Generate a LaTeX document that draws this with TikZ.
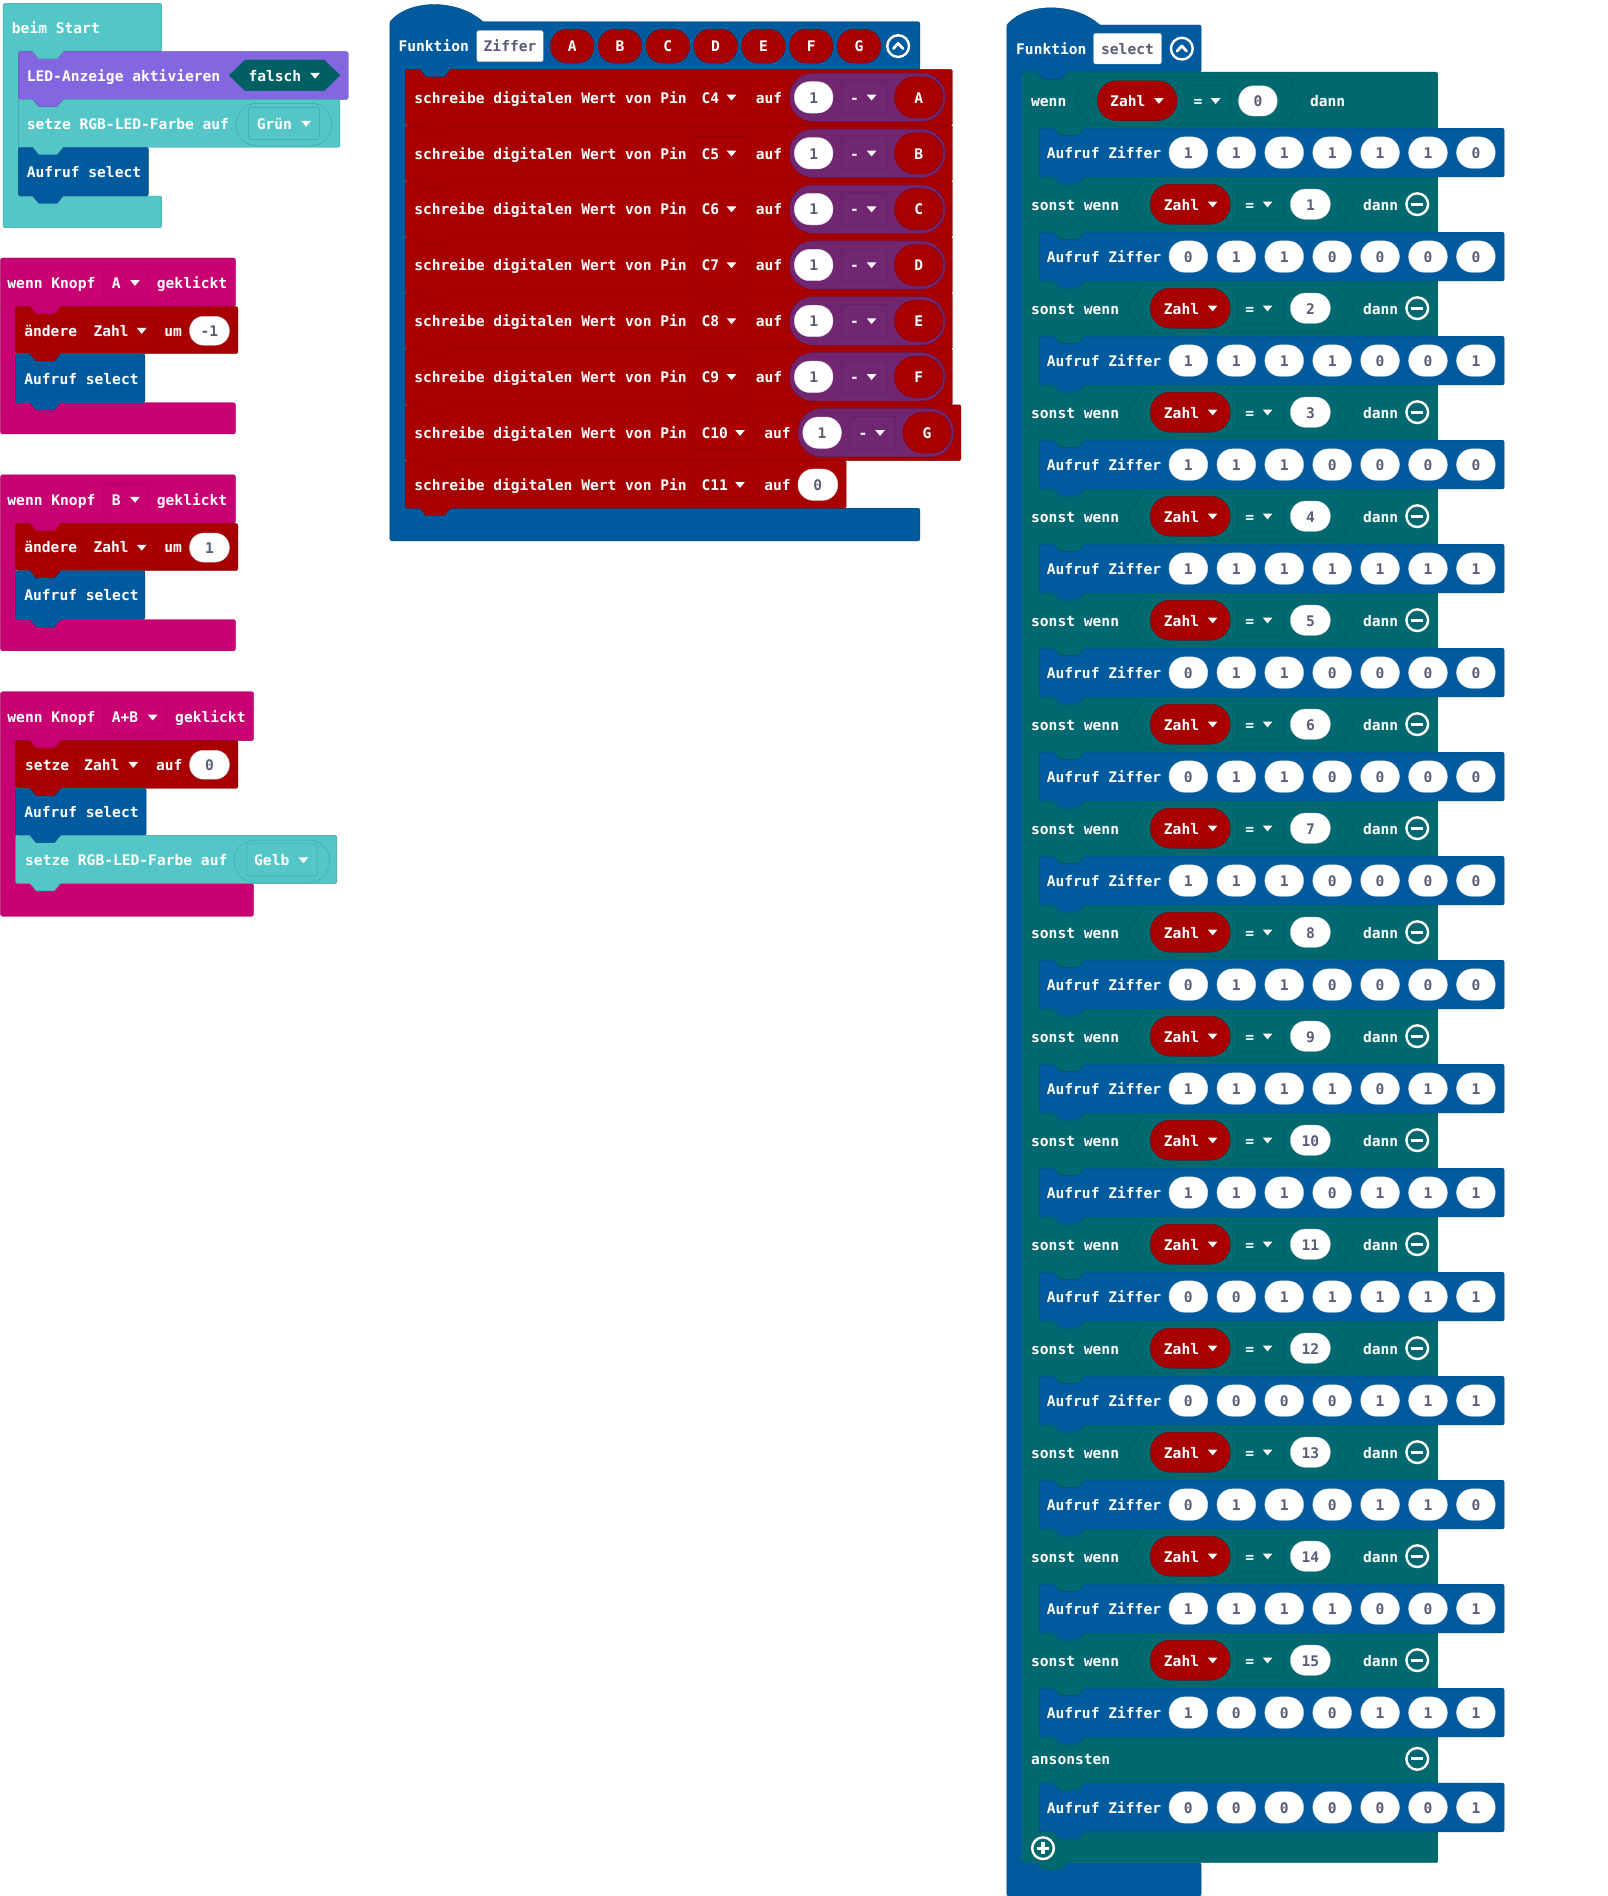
\documentclass[tikz,border=0pt]{standalone}
\usepackage{fontspec}
\newfontfamily\blockfont{DejaVu Sans Mono}

\definecolor{basicC}{HTML}{54C6C8}
\definecolor{basicD}{HTML}{3FA4A7}
\definecolor{ledC}{HTML}{8267E0}
\definecolor{boolC}{HTML}{005F63}
\definecolor{logicC}{HTML}{006970}
\definecolor{logicD}{HTML}{00535A}
\definecolor{inputC}{HTML}{C90072}
\definecolor{inputD}{HTML}{A0005B}
\definecolor{varC}{HTML}{A80000}
\definecolor{varD}{HTML}{860000}
\definecolor{funcC}{HTML}{005A9E}
\definecolor{mathC}{HTML}{712672}
\definecolor{mathD}{HTML}{591D5A}
\definecolor{numT}{HTML}{575E75}

\tikzstyle{lbl} = [font=\blockfont\bfseries\fontsize{14.6}{16}\selectfont, text=white, inner sep=0pt, anchor=west, text height=11.7pt, text depth=1pt]
\tikzstyle{num} = [lbl, text=numT, anchor=center]
\tikzstyle{tag} = [lbl, anchor=center]

% block shapes
\newcommand{\stmt}[5]{\draw[fill=#5, draw=#5!80!black, rounded corners=2pt] (#1,#2) rectangle (#3,#4);}
\newcommand{\cblk}[8]{\draw[fill=#8, draw=#8!80!black, rounded corners=2pt] (#1,#2) -- (#3,#2) -- (#3,#4) -- (#5,#4) -- (#5,#6) -- (#3,#6) -- (#3,#7) -- (#1,#7) -- cycle;}
\newcommand{\hatcap}[3]{\fill[#3] (#1,#2+2) -- (#1,#2) .. controls (#1+16,#2-19) and (#1+56,#2-19) .. (#1+77,#2) -- (#1+77,#2+2) -- cycle;
  \draw[#3!80!black] (#1,#2) .. controls (#1+16,#2-19) and (#1+56,#2-19) .. (#1+77,#2);}
\newcommand{\notch}[3]{\fill[#3] (#1+12,#2-1.5) -- (#1+12,#2) -- (#1+17,#2+6) -- (#1+32,#2+6) -- (#1+37,#2) -- (#1+37,#2-1.5) -- cycle;
  \draw[#3!80!black] (#1+12,#2) -- (#1+17,#2+6) -- (#1+32,#2+6) -- (#1+37,#2);}
\newcommand{\pill}[6]{\pgfmathsetmacro\pr{0.49*#4*1.2072}
  \draw[fill=#5, draw=#6, rounded corners=\pr pt] (#1-#3/2,#2-#4/2) rectangle (#1+#3/2,#2+#4/2);}
\newcommand{\ddbox}[6]{\draw[fill=#5, draw=#6, rounded corners=2pt] (#1,#3-#4) rectangle (#2,#3+#4);}
\newcommand{\ddown}[2]{\fill[white] (#1-4,#2-2.2) -- (#1+4,#2-2.2) -- (#1,#2+2.6) -- cycle;}
\newcommand{\hexa}[4]{\draw[fill=logicC, draw=logicD] (#1,#3) -- (#1+13,#3-#4) -- (#2-12,#3-#4) -- (#2,#3) -- (#2-12,#3+#4) -- (#1+13,#3+#4) -- cycle;}
\newcommand{\collapse}[2]{\draw[white, line width=2.4pt] (#1,#2) circle[radius=9];
  \draw[white, line width=2.8pt, line cap=round, line join=round] (#1-4,#2+2) -- (#1,#2-2.2) -- (#1+4,#2+2);}
\newcommand{\minusbtn}[2]{\draw[white, line width=2.4pt] (#1,#2) circle[radius=9];
  \draw[white, line width=3.2pt] (#1-4.8,#2) -- (#1+4.8,#2);}
\newcommand{\plusbtn}[2]{\draw[white, line width=2.4pt] (#1,#2) circle[radius=9];
  \draw[white, line width=3.2pt] (#1-4.8,#2) -- (#1+4.8,#2) (#1,#2-4.8) -- (#1,#2+4.8);}

\begin{document}
\begin{tikzpicture}[x=1.2072pt, y=-1.2072pt]
    \fill[white] (0,0) rectangle (1332,1570.6);
    \useasboundingbox (0,0) rectangle (1332,1570.6);

    % beim Start
    \cblk{2.5}{2.8}{134}{42.8}{15.2}{162.4}{188.6}{basicC}
    \node[lbl] (start) at (9.7,23.5) {beim Start};
    \stmt{15.2}{42.8}{288.5}{82.3}{ledC}
    \node[lbl] (led) at (22.1,62.8) {LED-Anzeige aktivieren};
    \draw[fill=boolC, draw=boolC] (190,62.4) -- (203,49.7) -- (268.6,49.7) -- (281.6,62.4) -- (268.6,75.1) -- (203,75.1) -- cycle;
    \node[lbl] (falsch) at (205.7,62.8) {falsch};
    \ddown{261}{62.6}
    \stmt{15.2}{82.3}{281.6}{122}{basicC}
    \node[lbl] (rgb1) at (22.1,102.6) {setze RGB-LED-Farbe auf};
    \pill{235.2}{103.2}{79.3}{35.1}{basicC}{basicD}
    \ddbox{205.7}{264.5}{102.2}{13.2}{basicC}{basicD}
    \node[lbl] (gruen) at (212.6,102.6) {Grün};
    \ddown{253.5}{102.4}
    \stmt{15.2}{122}{122.9}{162.4}{funcC}
    \node[lbl] (call1) at (22.1,142.8) {Aufruf select};
    \notch{15.2}{42.8}{basicC}
    \notch{15.2}{82.3}{ledC}
    \notch{15.2}{122}{basicC}
    \notch{15.2}{162.4}{funcC}

    % wenn Knopf A / B
    \foreach \btn/\amt/\dy in {A/-1/0, B/1/179.6} {
        \cblk{0.5}{213.7+\dy}{195}{254+\dy}{13}{333.6+\dy}{359.5+\dy}{inputC}
        \node[lbl] (knopf\btn) at (6,234.4+\dy) {wenn Knopf};
        \ddbox{86}{123}{234+\dy}{13}{inputC}{inputD}
        \node[lbl] (btn\btn) at (92.5,234.4+\dy) {\btn};
        \ddown{111.8}{234.2+\dy}
        \node[lbl] (klick\btn) at (129.8,234.4+\dy) {geklickt};
        \stmt{13}{254+\dy}{197}{293+\dy}{varC}
        \node[lbl] (chg\btn) at (20,274+\dy) {ändere};
        \ddbox{70.4}{129}{273.7+\dy}{12.8}{varC}{varD}
        \node[lbl] (zahl\btn) at (77.3,274+\dy) {Zahl};
        \ddown{117.4}{273.9+\dy}
        \node[lbl] (um\btn) at (135.9,274+\dy) {um};
        \pill{173.5}{274+\dy}{33}{24}{white}{white!85!black}
        \node[num] (amt\btn) at (173.5,274.3+\dy) {\amt};
        \stmt{13}{293+\dy}{120}{333.6+\dy}{funcC}
        \node[lbl] (call\btn) at (20,313.8+\dy) {Aufruf select};
        \notch{13}{254+\dy}{inputC}
        \notch{13}{293+\dy}{varC}
        \notch{13}{333.6+\dy}{funcC}
    }

    % wenn Knopf A+B
    \cblk{0.5}{573}{210}{613.5}{13}{732}{759}{inputC}
    \node[lbl] (knopfAB) at (6,594.4) {wenn Knopf};
    \ddbox{86}{138}{594}{13.5}{inputC}{inputD}
    \node[lbl] (btnAB) at (92.5,594.4) {A+B};
    \ddown{126.5}{594.2}
    \node[lbl] (klickAB) at (145,594.4) {geklickt};
    \stmt{13}{613.5}{197}{653}{varC}
    \node[lbl] (setAB) at (20.7,633.5) {setze};
    \ddbox{63.5}{122}{633.2}{12.8}{varC}{varD}
    \node[lbl] (zahlAB) at (69.6,633.5) {Zahl};
    \ddown{110.4}{633.4}
    \node[lbl] (aufAB) at (129.2,633.5) {auf};
    \pill{173.5}{633.5}{33}{24}{white}{white!85!black}
    \node[num] (nullAB) at (173.5,633.8) {0};
    \stmt{13}{653}{121}{692}{funcC}
    \node[lbl] (callAB) at (20,672.8) {Aufruf select};
    \stmt{13}{692}{279}{732}{basicC}
    \node[lbl] (rgb2) at (20.7,712.6) {setze RGB-LED-Farbe auf};
    \pill{233.5}{713.5}{79}{35}{basicC}{basicD}
    \ddbox{204.5}{263}{712.3}{13.3}{basicC}{basicD}
    \node[lbl] (gelb) at (210.4,712.6) {Gelb};
    \ddown{251.3}{712.5}
    \notch{13}{613.5}{inputC}
    \notch{13}{653}{varC}
    \notch{13}{692}{funcC}
    \notch{13}{732}{basicC}

    % Funktion Ziffer
    \cblk{323}{18}{762}{57.5}{336}{421}{448}{funcC}
    \hatcap{323}{18}{funcC}
    \node[lbl] (fnZ) at (330,38.5) {Funktion};
    \draw[fill=white, draw=white!80!black, rounded corners=2pt] (395,25.4) rectangle (450,51);
    \node[num] (nameZ) at (422.5,38.5) {Ziffer};
    \foreach \p [count=\j from 0] in {A,B,C,D,E,F,G} {
        \pill{474+39.6*\j}{38.2}{36}{28}{varC}{varD}
        \node[tag] (par\p) at (474+39.6*\j,38.5) {\p};
    }
    \collapse{744}{38.2}
    \foreach \pin/\seg/\dx [count=\i from 0] in {C4/A/0,C5/B/0,C6/C/0,C7/D/0,C8/E/0,C9/F/0,C10/G/7} {
        \pgfmathsetmacro\rowt{57.5+46.3*\i}
        \pgfmathsetmacro\rowc{\rowt+23.15}
        \stmt{336}{\rowt}{789+\dx}{\rowt+46.3}{varC}
        \node[lbl] (pin\i) at (343,\rowc+0.4) {schreibe digitalen Wert von Pin};
        \ddbox{574}{618+\dx}{\rowc}{14}{varC}{varD}
        \node[lbl] (pname\i) at (581,\rowc+0.4) {\pin};
        \ddown{606+\dx}{\rowc}
        \node[lbl] (auf\i) at (626+\dx,\rowc+0.4) {auf};
        \pill{718.5+\dx}{\rowc}{129}{40}{mathC}{mathD}
        \pill{674+\dx}{\rowc}{32}{26}{white}{white!85!black}
        \node[num] (one\i) at (674+\dx,\rowc+0.4) {1};
        \ddbox{697+\dx}{735+\dx}{\rowc}{13.5}{mathC}{mathD}
        \node[lbl] (op\i) at (704+\dx,\rowc+0.4) {-};
        \ddown{722+\dx}{\rowc}
        \pill{761+\dx}{\rowc}{40}{34}{varC}{varD}
        \node[tag] (seg\i) at (761+\dx,\rowc+0.4) {\seg};
    }
    \stmt{336}{381.6}{701}{421}{varC}
    \node[lbl] (pin7) at (343,401.9) {schreibe digitalen Wert von Pin};
    \ddbox{574}{625}{401.5}{14}{varC}{varD}
    \node[lbl] (pname7) at (581,401.9) {C11};
    \ddown{613}{401.5}
    \node[lbl] (auf7) at (633,401.9) {auf};
    \pill{677.5}{401.5}{33}{26}{white}{white!85!black}
    \node[num] (zero7) at (677.5,401.9) {0};
    \notch{336}{57.5}{funcC}
    \foreach \i in {1,...,7} {\notch{336}{57.5+46.3*\i}{varC}}
    \notch{336}{421}{varC}

    % Funktion select
    \cblk{834}{20.7}{995}{59.8}{847}{1543}{1570.6}{funcC}
    \hatcap{834}{20.7}{funcC}
    \node[lbl] (fnS) at (841.6,40.8) {Funktion};
    \draw[fill=white, draw=white!80!black, rounded corners=2pt] (906,27.6) rectangle (962,53);
    \node[num] (nameS) at (934,40.6) {select};
    \collapse{979}{40.3}
    \draw[fill=logicC, draw=logicD, rounded corners=2pt] (847,59.8) rectangle (1191,1543);
    % wenn Zahl = 0
    \node[lbl] (wenn0) at (854,83.4) {wenn};
    \hexa{889.6}{1078}{83}{19.6}
    \pill{942}{83.4}{66}{33}{varC}{varD}
    \node[lbl] (zahl0) at (919.5,83.8) {Zahl};
    \ddown{960}{83.4}
    \ddbox{982}{1019}{83.5}{13}{logicC}{logicD}
    \node[lbl] (eq0) at (988.5,83.9) {=};
    \ddown{1007}{83.5}
    \pill{1042}{83.6}{32}{25}{white}{white!85!black}
    \node[num] (val0) at (1042,84) {0};
    \node[lbl] (dann0) at (1085,83.4) {dann};
    % sonst wenn rows
    \foreach \k in {1,...,15} {
        \pgfmathsetmacro\rowc{60+86.15*\k+23}
        \node[lbl] (wenn\k) at (854,\rowc+0.4) {sonst wenn};
        \hexa{933.8}{1121.6}{\rowc}{19.6}
        \pill{986}{\rowc}{66}{33}{varC}{varD}
        \node[lbl] (zahl\k) at (964,\rowc+0.4) {Zahl};
        \ddown{1004.5}{\rowc}
        \ddbox{1025}{1063}{\rowc}{13}{logicC}{logicD}
        \node[lbl] (eq\k) at (1031.5,\rowc+0.4) {=};
        \ddown{1050}{\rowc}
        \pill{1085.5}{\rowc}{33}{25}{white}{white!85!black}
        \node[num] (val\k) at (1085.5,\rowc+0.4) {\k};
        \node[lbl] (dann\k) at (1129,\rowc+0.4) {dann};
        \minusbtn{1174}{\rowc}
    }
    % Aufruf Ziffer rows
    \foreach \k/\bits in {0/{1,1,1,1,1,1,0},1/{0,1,1,0,0,0,0},2/{1,1,1,1,0,0,1},3/{1,1,1,0,0,0,0},
        4/{1,1,1,1,1,1,1},5/{0,1,1,0,0,0,0},6/{0,1,1,0,0,0,0},7/{1,1,1,0,0,0,0},
        8/{0,1,1,0,0,0,0},9/{1,1,1,1,0,1,1},10/{1,1,1,0,1,1,1},11/{0,0,1,1,1,1,1},
        12/{0,0,0,0,1,1,1},13/{0,1,1,0,1,1,0},14/{1,1,1,1,0,0,1},15/{1,0,0,0,1,1,1},16/{0,0,0,0,0,0,1}} {
        \pgfmathsetmacro\rowt{\k<16 ? 60+86.15*\k+46.2 : 1477}
        \pgfmathsetmacro\rowc{\rowt+20.2}
        \stmt{861}{\rowt}{1246}{\rowt+40.4}{funcC}
        \node[lbl] (call\k) at (867,\rowc+0.4) {Aufruf Ziffer};
        \foreach \b [count=\j from 0] in \bits {
            \pill{984.4+39.7*\j}{\rowc}{32}{26}{white}{white!85!black}
            \node[num] (bit\k-\j) at (984.4+39.7*\j,\rowc+0.4) {\b};
        }
        \notch{861}{\rowt}{logicC}
        \notch{861}{\rowt+40.4}{funcC}
    }
    \node[lbl] (sonst) at (854,1457.4) {ansonsten};
    \minusbtn{1174}{1457}
    \plusbtn{864}{1531}
    \notch{847}{59.8}{funcC}
    \notch{847}{1543}{logicC}
\end{tikzpicture}
\end{document}
